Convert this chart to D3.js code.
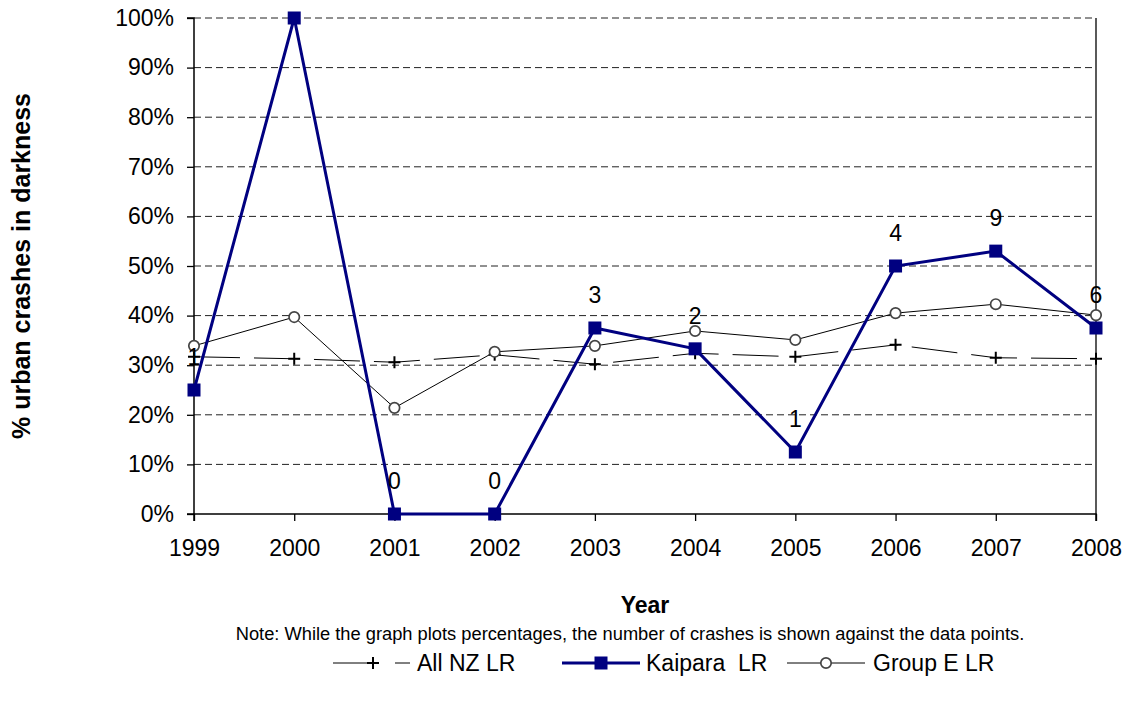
<!DOCTYPE html>
<html><head><meta charset="utf-8">
<script src="https://cdn.jsdelivr.net/npm/d3@7"></script>
<style>body{margin:0;background:#fff}svg{display:block;font-family:Arial,"Liberation Sans",sans-serif}</style>
</head><body><svg id="c" width="1127" height="708"></svg>
<script>
const years = [1999,2000,2001,2002,2003,2004,2005,2006,2007,2008];
const allNZ = [31.7,31.3,30.6,32.1,30.2,32.4,31.7,34.1,31.5,31.3];
const kaipara = [25,100,0,0,37.5,33.3,12.5,50,53,37.5];
const groupE = [33.9,39.7,21.4,32.7,33.9,36.9,35.1,40.5,42.3,40.1];
const crashCounts = ["1",null,"0","0","3","2","1","4","9","6"];
const yTicks = [0,10,20,30,40,50,60,70,80,90,100];

const svg = d3.select("#c");
const FF = "Arial, 'Liberation Sans', sans-serif";
const L=194,R=1096,T=18,B=514;
const x = d3.scalePoint().domain(years).range([L,R]);
const y = d3.scaleLinear().domain([0,100]).range([B,T]);

// gridlines
svg.append("g").selectAll("line").data(yTicks.filter(d=>d>0)).join("line")
  .attr("x1",L).attr("x2",R).attr("y1",d=>y(d)).attr("y2",d=>y(d))
  .attr("stroke","#222").attr("stroke-width",1).attr("stroke-dasharray","7,4");
// right border
svg.append("line").attr("x1",R).attr("x2",R).attr("y1",T).attr("y2",B).attr("stroke","#000").attr("stroke-width",1.3);

// axes
const ya = svg.append("g").attr("transform",`translate(${L},0)`)
  .call(d3.axisLeft(y).tickValues(yTicks).tickFormat(d=>d+"%").tickSize(7).tickPadding(13));
const xa = svg.append("g").attr("transform",`translate(0,${B})`)
  .call(d3.axisBottom(x).tickSize(7).tickFormat(d=>String(d)));
[ya,xa].forEach(a=>{a.select(".domain").attr("stroke","#000").attr("stroke-width",1.5);
  a.selectAll(".tick line").attr("stroke","#000").attr("stroke-width",1.3);
  a.selectAll("text").attr("font-size",23).attr("fill","#000").attr("font-family",FF);});
xa.selectAll(".tick text").attr("y",42).attr("dy",0);
ya.select(".domain").attr("d",`M-7,${B}H0V${T}H-7`);
xa.select(".domain").attr("d",`M${L},7V0H${R}V7`);

// All NZ
svg.append("path").datum(allNZ).attr("fill","none").attr("stroke","#000").attr("stroke-width",1)
  .attr("stroke-dasharray","46,14")
  .attr("d",d3.line().x((d,i)=>x(years[i])).y(d=>y(d)));
svg.append("g").selectAll("path").data(allNZ).join("path")
  .attr("d",(d,i)=>{const cx=x(years[i]),cy=y(d);return `M${cx-6},${cy}H${cx+6}M${cx},${cy-6}V${cy+6}`;})
  .attr("stroke","#000").attr("stroke-width",2);

// Group E
svg.append("path").datum(groupE).attr("fill","none").attr("stroke","#000").attr("stroke-width",1)
  .attr("d",d3.line().x((d,i)=>x(years[i])).y(d=>y(d)));
svg.append("g").selectAll("circle").data(groupE).join("circle")
  .attr("cx",(d,i)=>x(years[i])).attr("cy",d=>y(d)).attr("r",5.2)
  .attr("fill","#fff").attr("stroke","#444").attr("stroke-width",1.7);

// Kaipara
svg.append("path").datum(kaipara).attr("fill","none").attr("stroke","#000080").attr("stroke-width",3)
  .attr("d",d3.line().x((d,i)=>x(years[i])).y(d=>y(d)));
svg.append("g").selectAll("rect").data(kaipara).join("rect")
  .attr("x",(d,i)=>x(years[i])-6.5).attr("y",d=>y(d)-6.5).attr("width",13).attr("height",13)
  .attr("fill","#000080");

// count labels
svg.append("g").selectAll("text").data(kaipara.map((d,i)=>({v:d,i,l:crashCounts[i]})).filter(d=>d.l!==null))
  .join("text").attr("x",d=>x(years[d.i])).attr("y",d=>y(d.v)-25)
  .attr("text-anchor","middle").attr("font-size",23).attr("fill","#000").text(d=>d.l);

// titles
svg.append("text").attr("x",(L+R)/2).attr("y",613).attr("text-anchor","middle")
  .attr("font-size",23).attr("font-weight","bold").text("Year");
svg.append("text").attr("x",630).attr("y",640).attr("text-anchor","middle")
  .attr("font-size",18.3).text("Note: While the graph plots percentages, the number of crashes is shown against the data points.");
svg.append("text").attr("transform",`translate(30,${(T+B)/2}) rotate(-90)`).attr("text-anchor","middle")
  .attr("font-size",25).attr("font-weight","bold").text("% urban crashes in darkness");

// legend
const ly=663, lt=ly+8;
const lg=svg.append("g");
lg.append("line").attr("x1",333).attr("x2",367).attr("y1",ly).attr("y2",ly).attr("stroke","#000").attr("stroke-width",1);
lg.append("path").attr("d",`M367,${ly}H379M373,${ly-6}V${ly+6}`).attr("stroke","#000").attr("stroke-width",2);
lg.append("line").attr("x1",395).attr("x2",410).attr("y1",ly).attr("y2",ly).attr("stroke","#000").attr("stroke-width",1);
lg.append("text").attr("x",417).attr("y",lt).attr("font-size",23).text("All NZ LR");
lg.append("line").attr("x1",562).attr("x2",640).attr("y1",ly).attr("y2",ly).attr("stroke","#000080").attr("stroke-width",3);
lg.append("rect").attr("x",594.5).attr("y",ly-6.5).attr("width",13).attr("height",13).attr("fill","#000080");
lg.append("text").attr("x",646).attr("y",lt).attr("font-size",23).attr("xml:space","preserve").text("Kaipara  LR");
lg.append("line").attr("x1",787).attr("x2",865).attr("y1",ly).attr("y2",ly).attr("stroke","#000").attr("stroke-width",1);
lg.append("circle").attr("cx",826).attr("cy",ly).attr("r",5.2).attr("fill","#fff").attr("stroke","#444").attr("stroke-width",1.7);
lg.append("text").attr("x",873).attr("y",lt).attr("font-size",23).text("Group E LR");
</script></body></html>
